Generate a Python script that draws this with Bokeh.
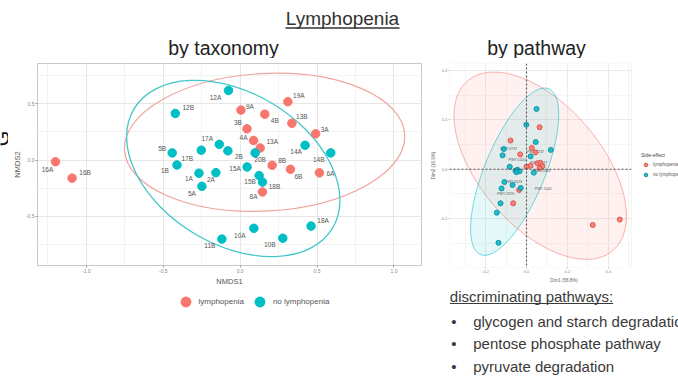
import math
from bokeh.plotting import figure
from bokeh.layouts import column, row
from bokeh.models import (Range1d, FixedTicker, Legend, LegendItem, Span, BoxAnnotation,
                          ColumnDataSource, PrintfTickFormatter)
from bokeh.core.properties import value
from bokeh.embed import file_html
from bokeh.resources import INLINE

FONT = "Liberation Sans"
RED = "#F8766D"
TEAL = "#00BFC4"
TXT = "#3a3a3a"

# ---------------- data: taxonomy NMDS ----------------
tax_samples = ["16A", "16B", "12A", "12B", "9A", "19A", "4B", "13B", "3B", "3A", "4A", "13A",
               "14A", "14B", "17A", "2B", "20B", "5B", "17B", "1B", "8B", "15A", "6B", "6A",
               "1A", "2A", "15B", "18B", "5A", "8A", "18A", "10A", "10B", "11B"]
tax_nmds1 = [-1.201, -1.093, -0.076, -0.422, 0.005, 0.310, 0.160, 0.336, 0.044, 0.491, 0.087, 0.130,
             0.422, 0.589, -0.136, -0.080, 0.097, -0.442, -0.253, -0.411, 0.208, 0.045, 0.327, 0.515,
             -0.268, -0.158, 0.123, 0.145, -0.249, 0.145, 0.461, 0.089, 0.277, -0.119]
tax_nmds2 = [-0.015, -0.161, 0.620, 0.415, 0.445, 0.520, 0.409, 0.328, 0.278, 0.234, 0.175, 0.108,
             0.132, 0.064, 0.140, 0.082, 0.064, 0.064, 0.088, -0.044, -0.047, -0.061, -0.082, -0.114,
             -0.117, -0.112, -0.138, -0.196, -0.234, -0.284, -0.588, -0.608, -0.696, -0.704]
tax_group = ["L", "L", "N", "N", "L", "L", "L", "L", "L", "L", "L", "L",
             "N", "N", "N", "N", "N", "N", "N", "N", "L", "N", "L", "L",
             "N", "N", "N", "N", "N", "L", "N", "N", "N", "N"]
group_names = {"L": "lymphopenia", "N": "no lymphopenia"}
# label placement (screen px offsets, like ggrepel)
tax_label_dx = [-8, 13, -13, 13, 9, 11, 10, 10, -9, 9, -10, 12,
                -9, -12, -12, 11, 5, -10, -14, -12, 10, -12, 8, 11,
                -10, -5, -9, 12, -10, -9, 12, -14, -13, -12]
tax_label_dy = [8, -6, 7, -6, -4, -6, 6, -7, -6, -4, -3, -6,
                6, 7, -6, 6, 7, -4, 8, 5, -5, 2, 7, 1,
                5, 7, 6, 4, 7, 5, -6, 7, 6, 6]
# stat_ellipse results: [lymphopenia, no lymphopenia]
tax_ell_x = [0.159, -0.045]
tax_ell_y = [0.158, -0.075]
tax_ell_w = [1.825, 1.506]
tax_ell_h = [1.225, 1.351]
tax_ell_angle = [0.055, -0.541]

# ---------------- data: pathway PCA ----------------
pca_l_dim1 = [-0.078, 0.064, 0.026, 0.044, -0.031, 0.000, 0.020, 0.054, 0.068, 0.078, 0.064,
              -0.036, -0.065, 0.324, 0.456]
pca_l_dim2 = [0.058, 0.085, 0.043, 0.034, 0.030, 0.005, 0.007, 0.012, 0.013, 0.006, 0.002,
              -0.042, -0.069, -0.113, -0.102]
pca_n_dim1 = [0.049, -0.001, 0.045, 0.119, -0.111, -0.117, -0.082, -0.054, -0.044, -0.034,
              -0.049, 0.036, 0.020, -0.108, -0.068, -0.028, -0.122, -0.127, -0.145, -0.137]
pca_n_dim2 = [0.122, 0.090, 0.055, 0.039, 0.041, 0.028, 0.005, -0.003, -0.001, -0.004,
              -0.006, -0.007, 0.026, -0.026, -0.032, -0.038, -0.039, -0.069, -0.088, -0.149]
pca_lab_text = ["PWY-6737", "PWY-5100", "PWY-7237", "PWY-6527", "PWY-5941", "PWY-6123",
                "PWY-7219", "PWY-1042"]
pca_lab_dim1 = [-0.087, -0.046, 0.044, 0.060, 0.077, -0.062, -0.103, 0.082]
pca_lab_dim2 = [0.041, 0.019, 0.034, 0.012, -0.004, -0.026, -0.050, -0.040]
pca_ell_x = [0.067, -0.058]
pca_ell_y = [0.007, -0.005]
pca_ell_w = [1.093, 0.877]
pca_ell_h = [0.247, 0.122]
pca_ell_angle = [-0.862, 1.180]
pca_x_lim = (-0.3765, 0.5134)
pca_y_lim = (-0.199, 0.214)

bullets = ["glycogen and starch degradation", "pentose phosphate pathway", "pyruvate degradation"]


def blank(w, h, x0=0, left=0, right=0):
    p = figure(width=w, height=h, x_range=Range1d(x0, w - right), y_range=Range1d(h, 0),
               output_backend="svg", toolbar_location=None, min_border=0,
               min_border_left=left, min_border_right=right, min_border_top=0, min_border_bottom=0)
    p.axis.visible = False
    p.grid.visible = False
    p.outline_line_color = None
    return p


# ---------------- header ----------------
hdr = blank(678, 58)
hdr.text(x=[342], y=[17.5], text=["Lymphopenia"], text_font=value(FONT), text_font_size="19px",
         text_align="center", text_baseline="middle", text_color="#333333")
hdr.segment(x0=[285], y0=[27.5], x1=[399], y1=[27.5], line_color="#333333", line_width=1.3)
hdr.text(x=[223, 536], y=[47.5, 47.5], text=["by taxonomy", "by pathway"], text_font=value(FONT),
         text_font_size="19.5px", text_align="center", text_baseline="middle", text_color="#222222")

# ---------------- far-left strip: cut-off rotated letter of the slide ----------------
gfig = blank(8, 320)
gfig.text(x=[1], y=[80], text=["G"], angle=math.pi / 2, text_font=value(FONT),
          text_font_size="20px", text_align="center", text_baseline="middle", text_color="#111111")

# ---------------- left: taxonomy ----------------
pl = figure(width=417, height=230, x_range=Range1d(-1.318, 1.179), y_range=Range1d(-0.939, 0.860),
            output_backend="svg", toolbar_location=None,
            min_border_left=29, min_border_right=4, min_border_top=5, min_border_bottom=21)
pl.outline_line_color = "#C8C8C8"
pl.xaxis.ticker = FixedTicker(ticks=[-1, -0.5, 0, 0.5, 1], minor_ticks=[-1.25, -0.75, -0.25, 0.25, 0.75])
pl.yaxis.ticker = FixedTicker(ticks=[-0.5, 0, 0.5], minor_ticks=[-0.75, -0.25, 0.25, 0.75])
for g in (pl.xgrid, pl.ygrid):
    g.grid_line_color = "#E6E6E6"
    g.minor_grid_line_color = "#F3F3F3"
for ax in (pl.xaxis[0], pl.yaxis[0]):
    ax.formatter = PrintfTickFormatter(format="%.1f")
    ax.axis_line_color = None
    ax.major_tick_out = 2
    ax.major_tick_in = 0
    ax.minor_tick_out = 0
    ax.minor_tick_in = 0
    ax.major_tick_line_color = "#999999"
    ax.major_label_text_font = FONT
    ax.major_label_text_font_size = "5px"
    ax.major_label_text_color = "#888888"
    ax.major_label_standoff = 1
    ax.axis_label_text_font = FONT
    ax.axis_label_text_font_size = "7.5px"
    ax.axis_label_text_font_style = "normal"
    ax.axis_label_text_color = "#555555"
    ax.axis_label_standoff = 1
pl.xaxis.axis_label = "NMDS1"
pl.yaxis.axis_label = "NMDS2"

pl.ellipse(x=tax_ell_x[0], y=tax_ell_y[0], width=tax_ell_w[0], height=tax_ell_h[0],
           angle=tax_ell_angle[0], fill_color=None, line_color="#EFA59D", line_width=1.2)
pl.ellipse(x=tax_ell_x[1], y=tax_ell_y[1], width=tax_ell_w[1], height=tax_ell_h[1],
           angle=tax_ell_angle[1], fill_color=None, line_color="#45C6CA", line_width=1.3)

group_src = {}
for grp, col in (("L", RED), ("N", TEAL)):
    idx = [i for i, g in enumerate(tax_group) if g == grp]
    group_src[grp] = dict(
        x=[tax_nmds1[i] for i in idx], y=[tax_nmds2[i] for i in idx],
        label=[tax_samples[i] for i in idx],
        dx=[tax_label_dx[i] for i in idx], dy=[tax_label_dy[i] for i in idx])
    src = ColumnDataSource(group_src[grp])
    pl.scatter("x", "y", source=src, size=8.5, fill_color=col, line_color=col)
    pl.text("x", "y", text="label", x_offset="dx", y_offset="dy", source=src,
            text_font=value(FONT), text_font_size="6.5px", text_color="#555555",
            text_align="center", text_baseline="middle")

# legend strip under the taxonomy plot: key renderers carry the groups' data at zero size,
# so only the legend keys (sized by the legend box) are visible
legfig = blank(417, 90, left=29, right=4)
keys = {}
for grp, col in (("L", RED), ("N", TEAL)):
    keys[grp] = legfig.scatter("x", "y", source=ColumnDataSource(group_src[grp]),
                               size=0, fill_color=col, line_color=None)
leg = Legend(items=[LegendItem(label=group_names["L"], renderers=[keys["L"]]),
                    LegendItem(label=group_names["N"], renderers=[keys["N"]])],
             location=(134.5, 63.2), orientation="horizontal", glyph_width=27, glyph_height=27,
             label_standoff=0, spacing=2, padding=0, margin=0, border_line_color=None,
             background_fill_alpha=0, label_text_font=FONT, label_text_font_size="8px",
             label_text_color="#555555")
legfig.add_layout(leg)

# ---------------- right: pathway ----------------
# frame runs to the page edge so that the text panel underneath is not clipped;
# the visible panel ends at pca_x_lim[1]
x_right_edge = pca_x_lim[0] + (pca_x_lim[1] - pca_x_lim[0]) * 229 / 182
pr = figure(width=253, height=230, x_range=Range1d(pca_x_lim[0], x_right_edge),
            y_range=Range1d(*pca_y_lim),
            output_backend="svg", toolbar_location=None,
            min_border_left=24, min_border_right=0, min_border_top=5, min_border_bottom=21)
pr.outline_line_color = None
pr.xaxis.ticker = FixedTicker(ticks=[-0.2, 0, 0.2, 0.4], minor_ticks=[-0.3, -0.1, 0.1, 0.3, 0.5])
pr.yaxis.ticker = FixedTicker(ticks=[-0.1, 0, 0.1, 0.2], minor_ticks=[-0.15, -0.05, 0.05, 0.15])
for g in (pr.xgrid, pr.ygrid):
    g.grid_line_color = "#EBEBEB"
    g.minor_grid_line_color = "#F5F5F5"
for ax in (pr.xaxis[0], pr.yaxis[0]):
    ax.formatter = PrintfTickFormatter(format="%.1f")
    ax.axis_line_color = None
    ax.major_tick_out = 1
    ax.major_tick_in = 0
    ax.minor_tick_out = 0
    ax.minor_tick_in = 0
    ax.major_tick_line_color = "#AAAAAA"
    ax.major_label_text_font = FONT
    ax.major_label_text_font_size = "4px"
    ax.major_label_text_color = "#888888"
    ax.major_label_standoff = 1
    ax.axis_label_text_font = FONT
    ax.axis_label_text_font_size = "4.5px"
    ax.axis_label_text_font_style = "normal"
    ax.axis_label_text_color = "#666666"
    ax.axis_label_standoff = 2
pr.xaxis.bounds = pca_x_lim
pr.xaxis.axis_label = "Dim1 (58.8%)"
pr.yaxis.axis_label = "Dim2 (16.9%)"

pr.ellipse(x=pca_ell_x[0], y=pca_ell_y[0], width=pca_ell_w[0], height=pca_ell_h[0],
           angle=pca_ell_angle[0], fill_color=RED, fill_alpha=0.10, line_color=RED,
           line_alpha=0.55, line_width=1)
pr.ellipse(x=pca_ell_x[1], y=pca_ell_y[1], width=pca_ell_w[1], height=pca_ell_h[1],
           angle=pca_ell_angle[1], fill_color=TEAL, fill_alpha=0.10, line_color=TEAL,
           line_alpha=0.55, line_width=1)
pr.add_layout(Span(location=0, dimension="height", line_color="#555555", line_width=1.1,
                   line_dash="2 2"))
pr.add_layout(Span(location=0, dimension="width", line_color="#555555", line_width=1.1,
                   line_dash="2 2"))
pr.text(x=pca_lab_dim1, y=pca_lab_dim2, text=pca_lab_text, text_font=value(FONT),
        text_font_size="3.6px", text_color="#555555", text_align="center", text_baseline="middle")
sr = pr.scatter(pca_l_dim1, pca_l_dim2, size=5, fill_color=RED, line_color="#D9584F", fill_alpha=0.9)
sn = pr.scatter(pca_n_dim1, pca_n_dim2, size=5, fill_color=TEAL, line_color="#1A8FA8", fill_alpha=0.9)
# blank the area right of the panel, then the panel border
pr.add_layout(BoxAnnotation(left=pca_x_lim[1], fill_color="white", fill_alpha=1.0, line_color=None))
pr.add_layout(BoxAnnotation(left=pca_x_lim[0], right=pca_x_lim[1], fill_alpha=0,
                            line_color="#D9D9D9", line_width=1))
legr = Legend(items=[LegendItem(label=group_names["L"], renderers=[sr]),
                     LegendItem(label=group_names["N"], renderers=[sn])],
              title="Side-effect", location=(192, 88), glyph_width=9, glyph_height=9,
              label_standoff=3, spacing=1, padding=0, margin=0, border_line_color=None,
              background_fill_alpha=0, label_text_font=FONT, label_text_font_size="4.5px",
              label_text_color="#555555", title_text_font=FONT, title_text_font_size="5px",
              title_text_font_style="normal", title_text_color="#444444", title_standoff=2)
pr.add_layout(legr)

# ---------------- bottom-right text (page x = 425 + x, page y = 288 + y) ----------------
tx = blank(253, 90, x0=24, left=24)
tx.text(x=[24.3], y=[8.3], text=["discriminating pathways:"], text_font=value(FONT),
        text_font_size="15px", text_align="left", text_baseline="middle", text_color=TXT)
tx.segment(x0=[24.3], y0=[15], x1=[187.7], y1=[15], line_color=TXT, line_width=1.2)
tx.text(x=[25.7] * 3, y=[32.6, 55.1, 78.1], text=["\u2022"] * 3, text_font=value(FONT),
        text_font_size="15px", text_align="left", text_baseline="middle", text_color=TXT)
tx.text(x=[47.7] * 3, y=[32.6, 55.1, 78.1], text=bullets, text_font=value(FONT),
        text_font_size="15px", text_align="left", text_baseline="middle", text_color=TXT)

layout = column(hdr, row(gfig, column(pl, legfig), column(pr, tx)))
open("out.html", "w").write(file_html(layout, INLINE))
